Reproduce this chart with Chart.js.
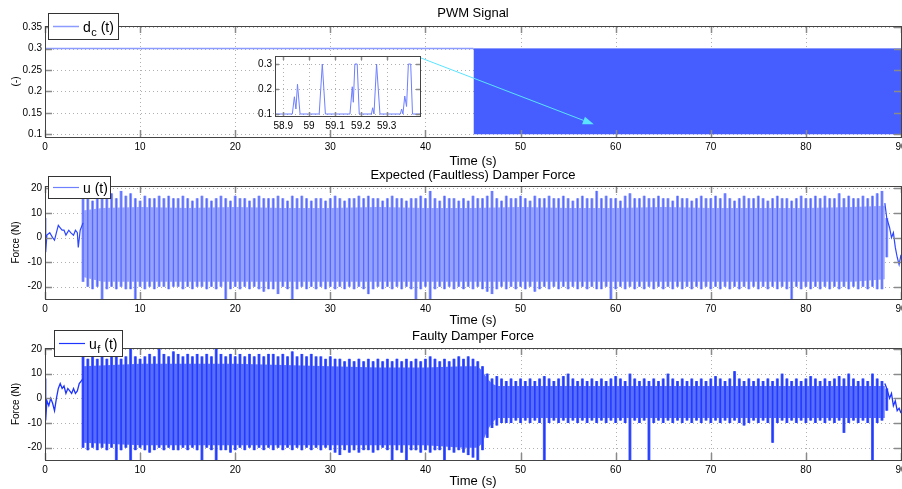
<!DOCTYPE html>
<html><head><meta charset="utf-8">
<script src="https://cdn.jsdelivr.net/npm/chart.js@4.4.1/dist/chart.umd.min.js"></script>
<style>
html,body{margin:0;padding:0;background:#fff;overflow:hidden;width:902px;height:489px;position:relative}
canvas{position:absolute;left:0;top:0}
</style></head><body>
<canvas id="c1" width="920" height="489"></canvas>
<canvas id="c2" width="920" height="489"></canvas>
<canvas id="c3" width="920" height="489"></canvas>
<canvas id="c4" width="920" height="489"></canvas>
<script>
// ---------- tick labels ----------
const timeTicks=[0,10,20,30,40,50,60,70,80,90];
const pwmYTicks=[0.1,0.15,0.2,0.25,0.3,0.35];
const forceYTicks=[-20,-10,0,10,20];
const zoomXTicks=[58.9,59,59.1,59.2,59.3];
const zoomYTicks=[0.1,0.2,0.3];

// ---------- PWM signal d_c(t) ----------
const pwmConstT=[0,45.05];
const pwmConstV=[0.3,0.3];
const pwmBandT=[45.05,90];
const pwmBandHi=[0.3,0.3];
const pwmBandLo=[0.1,0.1];
// zoomed window 58.87 .. 59.43 s
const pwmZoomT=[58.868,58.935,58.943,58.949,58.955,58.965,59.039,59.051,59.063,59.158,59.167,59.171,59.177,59.186,59.194,59.241,59.246,59.251,59.261,59.274,59.353,59.358,59.363,59.370,59.377,59.384,59.393,59.400,59.429];
const pwmZoomV=[0.1,0.1,0.169,0.12,0.219,0.1,0.1,0.3,0.1,0.1,0.209,0.147,0.3,0.3,0.1,0.1,0.125,0.1,0.3,0.1,0.1,0.12,0.1,0.172,0.13,0.3,0.3,0.1,0.1];
const arrowFrom=[39.4,0.279];
const arrowTo=[57.7,0.123];

// ---------- sample grid of oscillation peaks (s) ----------
const cycleT0=4.0, cycleDt=0.5;

// ---------- Expected (faultless) damper force u(t) ----------
const uStartT=[0,0.05,0.1,0.2,0.5,0.8,1.0,1.2,1.4,1.6,1.8,2.0,2.2,2.5,2.7,3.0,3.2,3.4,3.5,3.7,4.0];
const uStartV=[0,8,-6,1,2,0,-1,2,5,4,3,3,1,3,2,1,3,2,-4,3,6];
const uEndT=[88.3,88.5,88.8,89.0,89.2,89.4,89.6,89.8,90];
const uEndV=[14,8,4,0,2,-4,-8,-11,-7];
const uBandT=[4,6,10,15,20,25,30,35,40,45,50,55,60,65,70,75,80,85,88.3];
const uBandHi=[11,12,12.5,12,12.5,12,12,12.5,12,12,12.5,12,12,12.5,12,12,12,12.5,13];
const uBandLo=[-16,-18,-18,-18,-18,-18,-18,-18,-18,-18,-18,-18,-18,-18,-18,-18,-18,-18,-17];
const uPeakHi=[17,16,15,16,17,16,18,16,19,17, 18,16,15,17,16,16,17,16,17,16, 16,17,16,15,16,17,16,15,16,17,
 16,15,17,16,16,15,16,17,16,16, 16,17,16,15,17,16,17,16,15,16, 16,15,16,17,16,15,16,16,17,16,
 17,16,16,15,16,17,16,16,15,16, 16,17,16,19,16,15,17,16,16,15, 16,15,17,16,16,17,19,16,15,17,
 16,16,17,16,15,17,16,16,17,16, 16,17,16,15,16,17,16,16,19,16, 17,16,16,15,17,18,16,16,17,16,
 16,17,16,16,15,17,16,16,15,16, 17,16,16,17,16,18,16,15,16,17, 16,16,17,16,15,16,17,16,16,15,
 16,17,16,16,17,16,17,16,16,18, 16,17,16,16,17,16,17,18,19,8];
const uPeakLo=[-18,-20,-21,-20,-25,-21,-20,-21,-20,-21, -21,-25,-20,-21,-20,-21,-20,-20,-21,-20, -20,-21,-20,-21,-20,-20,-21,-20,-21,-20,
 -25,-21,-20,-21,-20,-21,-20,-21,-22,-21, -21,-23,-20,-21,-25,-21,-20,-21,-20,-21, -20,-21,-20,-21,-20,-21,-20,-21,-20,-21,
 -23,-21,-20,-21,-20,-21,-20,-21,-20,-21, -25,-21,-20,-25,-21,-20,-21,-20,-21,-20, -21,-20,-21,-20,-21,-22,-23,-21,-20,-21,
 -20,-21,-20,-21,-20,-22,-21,-20,-21,-20, -21,-20,-21,-20,-21,-20,-21,-20,-21,-21, -20,-25,-21,-20,-21,-20,-21,-20,-21,-20,
 -21,-20,-21,-20,-21,-20,-21,-20,-21,-20, -21,-20,-21,-20,-21,-20,-21,-20,-21,-20, -21,-20,-21,-20,-21,-20,-21,-20,-21,-25,
 -20,-21,-20,-21,-20,-21,-20,-21,-20,-21, -20,-21,-20,-21,-20,-21,-20,-21,-21,-8];

// ---------- Faulty damper force u_f(t) ----------
const fStartT=[0,0.05,0.1,0.2,0.4,0.6,0.8,1.0,1.2,1.4,1.6,1.8,2.0,2.2,2.4,2.6,2.8,3.0,3.2,3.4,3.6,3.8,4.0];
const fStartV=[0,8,-9,-1,-3,0,-2,-5,0,4,6,4,5,2,4,3,2,4,2,3,6,7,8];
const fEndT=[88.3,88.5,88.8,89.0,89.2,89.4,89.6,89.8,90];
const fEndV=[6,4,0,2,-3,-1,-5,-4,-6];
const fBandT=[4,10,20,30,35,40,44,45.5,46,46.5,47,47.5,55,65,75,85,88.3];
const fBandHi=[13,14,14,13,12.5,12.5,13,13,11,8,6,5,5,5,5,5,5];
const fBandLo=[-18,-19,-19,-19,-19,-19,-20,-20,-18,-13,-10,-8,-8,-8,-8,-8,-8];
const fPeakHi=[17,16,17,16,17,16,18,17,16,17, 20,17,16,17,18,17,20,18,17,19, 18,17,18,17,18,17,18,17,20,18,
 17,18,17,18,17,18,17,18,17,18, 18,17,18,17,19,17,18,17,18,17, 17,16,17,16,16,15,16,15,16,15,
 16,15,16,15,16,15,16,15,16,15, 16,15,16,17,16,15,16,15,16,17, 16,17,16,15,13,10,8,9,8,7,
 8,7,8,7,8,7,8,9,8,7, 8,9,10,8,7,8,7,8,7,8, 7,8,9,8,7,10,8,7,8,7,
 8,7,8,10,8,7,8,7,8,7, 8,7,8,9,8,7,8,11,8,7, 8,7,8,7,8,7,8,10,8,7,
 8,7,8,9,8,7,8,7,8,9, 8,10,8,7,8,7,10,8,7,4];
const fPeakLo=[-20,-21,-20,-21,-20,-21,-20,-25,-21,-20, -25,-21,-20,-21,-22,-21,-20,-21,-20,-21, -21,-20,-21,-20,-21,-25,-20,-21,-25,-21,
 -21,-22,-21,-20,-21,-20,-21,-20,-21,-20, -21,-20,-21,-20,-21,-20,-21,-20,-21,-20, -21,-20,-21,-22,-23,-21,-22,-21,-22,-21,
 -21,-22,-21,-20,-21,-25,-21,-22,-25,-21, -21,-22,-21,-22,-21,-21,-25,-21,-22,-21, -22,-23,-24,-25,-21,-16,-12,-11,-10,-10,
 -10,-9,-10,-9,-10,-9,-10,-25,-10,-9, -10,-9,-10,-9,-10,-9,-10,-9,-10,-9, -10,-9,-10,-9,-10,-25,-9,-10,-9,-25,
 -10,-9,-10,-9,-10,-9,-10,-9,-10,-9, -10,-9,-10,-9,-10,-9,-10,-9,-10,-11, -10,-9,-10,-9,-10,-18,-10,-9,-10,-9,
 -10,-9,-10,-9,-10,-9,-10,-9,-10,-9, -14,-10,-9,-10,-9,-10,-25,-10,-9,-5];

// ---------- helpers ----------
const FONT="'Liberation Sans', Arial, Helvetica, sans-serif";
const pts=(T,V)=>T.map((t,i)=>({x:t,y:V[i]}));
const bars=(H,L)=>H.map((h,i)=>({x:cycleT0+i*cycleDt,y:[L[i],h]}));
const clear='rgba(0,0,0,0)';

function drawLegend(ctx,L){
  ctx.save();
  ctx.fillStyle='#fff';ctx.fillRect(L.x,L.y,L.w,L.h);
  ctx.strokeStyle='#333';ctx.lineWidth=1;ctx.setLineDash([]);
  ctx.strokeRect(L.x+0.5,L.y+0.5,L.w,L.h);
  const cy=L.y+L.h/2+0.5;
  ctx.strokeStyle=L.color;ctx.lineWidth=L.lw;
  ctx.beginPath();ctx.moveTo(L.x+5,cy);ctx.lineTo(L.x+31,cy);ctx.stroke();
  ctx.fillStyle='#000';ctx.font='14px '+FONT;ctx.textBaseline='alphabetic';ctx.textAlign='left';
  let tx=L.x+35;const by=cy+5;
  ctx.fillText(L.main,tx,by);tx+=ctx.measureText(L.main).width;
  if(L.sub){ctx.font='11px '+FONT;ctx.fillText(L.sub,tx+0.5,by+4);tx+=ctx.measureText(L.sub).width+0.5;ctx.font='14px '+FONT;}
  ctx.fillText(L.rest,tx,by);
  ctx.restore();
}

const matlabPlugin={
  id:'matlab',
  beforeDatasetsDraw(chart,args,o){
    const {ctx,chartArea:a,scales:{x,y}}=chart;
    ctx.save();
    if(o.whiteBg){ctx.fillStyle='#fff';ctx.fillRect(a.left,a.top,a.right-a.left,a.bottom-a.top);}
    ctx.strokeStyle='#b0b0b0';ctx.lineWidth=1;ctx.setLineDash([1,3]);
    ctx.beginPath();
    x.ticks.forEach(t=>{const p=Math.round(x.getPixelForValue(t.value))+0.5;ctx.moveTo(p,a.top);ctx.lineTo(p,a.bottom);});
    y.ticks.forEach(t=>{const p=Math.round(y.getPixelForValue(t.value))+0.5;ctx.moveTo(a.left,p);ctx.lineTo(a.right,p);});
    ctx.stroke();ctx.restore();
  },
  afterDatasetsDraw(chart,args,o){
    const {ctx,chartArea:a,scales:{x,y}}=chart;
    ctx.save();ctx.setLineDash([]);
    ctx.strokeStyle='#8a8a8a';ctx.lineWidth=1.5;ctx.beginPath();
    const tl=o.tickLen||7;
    x.ticks.forEach(t=>{const p=Math.round(x.getPixelForValue(t.value))+0.5;ctx.moveTo(p,a.top);ctx.lineTo(p,a.top+tl);ctx.moveTo(p,a.bottom);ctx.lineTo(p,a.bottom-tl);});
    y.ticks.forEach(t=>{const p=Math.round(y.getPixelForValue(t.value))+0.5;ctx.moveTo(a.left,p);ctx.lineTo(a.left+tl,p);ctx.moveTo(a.right,p);ctx.lineTo(a.right-tl,p);});
    ctx.stroke();
    ctx.strokeStyle='#444';ctx.lineWidth=1;
    ctx.strokeRect(Math.round(a.left)+0.5,Math.round(a.top)+0.5,Math.round(a.right-a.left),Math.round(a.bottom-a.top));
    if(o.arrow){
      const A=o.arrow;
      const x1=x.getPixelForValue(A.from[0]),y1=y.getPixelForValue(A.from[1]);
      const x2=x.getPixelForValue(A.to[0]),y2=y.getPixelForValue(A.to[1]);
      const ang=Math.atan2(y2-y1,x2-x1),hl=11,hw=4;
      ctx.strokeStyle=A.color;ctx.fillStyle=A.color;ctx.lineWidth=1;
      ctx.beginPath();ctx.moveTo(x1,y1);ctx.lineTo(x2-hl*Math.cos(ang),y2-hl*Math.sin(ang));ctx.stroke();
      ctx.beginPath();ctx.moveTo(x2,y2);
      ctx.lineTo(x2-hl*Math.cos(ang)+hw*Math.sin(ang),y2-hl*Math.sin(ang)-hw*Math.cos(ang));
      ctx.lineTo(x2-hl*Math.cos(ang)-hw*Math.sin(ang),y2-hl*Math.sin(ang)+hw*Math.cos(ang));
      ctx.closePath();ctx.fill();
    }
    ctx.restore();
  },
  afterDraw(chart,args,o){
    const {ctx,chartArea:a}=chart;
    ctx.save();ctx.fillStyle='#000';
    const cx=o.centerX||(a.left+a.right)/2;
    if(o.title){ctx.font='13px '+FONT;ctx.textAlign='center';ctx.textBaseline='middle';ctx.fillText(o.title,cx,a.top+o.titleDy);}
    if(o.xTitle){ctx.font='13px '+FONT;ctx.textAlign='center';ctx.textBaseline='middle';ctx.fillText(o.xTitle,cx,a.bottom+o.xTitleDy);}
    if(o.yTitle){ctx.font='10px '+FONT;ctx.textAlign='center';ctx.textBaseline='middle';
      ctx.translate(o.yTitleX,(a.top+a.bottom)/2);ctx.rotate(-Math.PI/2);ctx.fillText(o.yTitle,0,0);ctx.setTransform(1,0,0,1,0,0);}
    ctx.restore();
    if(o.legend)drawLegend(ctx,o.legend);
  }
};

function makeOptions(c){
  return {
    responsive:false,animation:false,devicePixelRatio:1,
    layout:{padding:{top:c.top,left:c.left,right:c.right,bottom:0}},
    plugins:{legend:{display:false},tooltip:{enabled:false},title:{display:false},matlab:c.matlab},
    scales:{
      x:{type:'linear',min:c.xMin,max:c.xMax,offset:false,
        afterFit:s=>{s.height=c.xH;},
        afterBuildTicks:s=>{s.ticks=c.xTicks.map(v=>({value:v}));},
        grid:{display:false,drawTicks:false},border:{display:false},
        ticks:{autoSkip:false,maxRotation:0,minRotation:0,padding:c.xPad,color:'#000',font:{family:FONT,size:10},callback:v=>String(v)}},
      y:{type:'linear',min:c.yMin,max:c.yMax,
        afterFit:s=>{s.width=c.yW;},
        afterBuildTicks:s=>{s.ticks=c.yTicks.map(v=>({value:v}));},
        grid:{display:false,drawTicks:false},border:{display:false},
        ticks:{padding:3,color:'#000',font:{family:FONT,size:10},callback:v=>String(v)}}
    }
  };
}

// colors
const PWM_LINE='rgb(140,155,255)', PWM_BAND='rgb(70,94,255)';
const U_BAND='rgb(150,162,255)', U_BAR='rgb(85,105,255)', U_LINE='rgb(45,70,255)', U_LEG='rgb(110,128,255)';
const F_BAND='rgb(88,110,255)', F_BAR='rgb(35,58,255)', F_LINE='rgb(30,52,255)';

// ---------- chart 1: PWM ----------
new Chart(document.getElementById('c1'),{
  type:'line',
  data:{datasets:[
    {data:pts(pwmBandT,pwmBandHi),fill:'+1',backgroundColor:PWM_BAND,borderColor:PWM_LINE,borderWidth:1,pointRadius:0,order:3},
    {data:pts(pwmBandT,pwmBandLo),fill:false,borderColor:clear,borderWidth:1,pointRadius:0,order:3},
    {data:pts(pwmConstT,pwmConstV),fill:false,borderColor:PWM_LINE,borderWidth:1.5,pointRadius:0,order:1}
  ]},
  plugins:[matlabPlugin],
  options:makeOptions({top:26,left:0,right:19,xH:489-137,yW:45,xMin:0,xMax:90,yMin:0.0935,yMax:0.3525,
    xTicks:timeTicks,yTicks:pwmYTicks,xPad:4,
    matlab:{title:'PWM Signal',titleDy:-13,xTitle:'Time (s)',xTitleDy:24,yTitle:'(-)',yTitleX:16,centerX:473,
      arrow:{from:arrowFrom,to:arrowTo,color:'rgb(90,228,255)'},
      legend:{x:48,y:13,w:70,h:26,color:PWM_LINE,lw:1.5,main:'d',sub:'c',rest:' (t)'}}})
});

// ---------- chart 2: expected force ----------
new Chart(document.getElementById('c2'),{
  type:'line',
  data:{datasets:[
    {data:pts(uBandT,uBandHi),fill:'+1',backgroundColor:U_BAND,borderColor:clear,borderWidth:1,pointRadius:0,order:4},
    {data:pts(uBandT,uBandLo),fill:false,borderColor:clear,borderWidth:1,pointRadius:0,order:4},
    {type:'bar',data:bars(uPeakHi,uPeakLo),backgroundColor:U_BAND,barThickness:3,inflateAmount:0,grouped:false,order:3},
    {type:'bar',data:bars(uPeakHi,uPeakLo),backgroundColor:U_BAR,barThickness:1.3,inflateAmount:0,grouped:false,order:2},
    {data:pts(uStartT,uStartV),fill:false,borderColor:U_LINE,borderWidth:1.2,pointRadius:0,order:1},
    {data:pts(uEndT,uEndV),fill:false,borderColor:U_LINE,borderWidth:1.2,pointRadius:0,order:1}
  ]},
  plugins:[matlabPlugin],
  options:makeOptions({top:186,left:0,right:19,xH:489-299,yW:45,xMin:0,xMax:90,yMin:-25,yMax:21,
    xTicks:timeTicks,yTicks:forceYTicks,xPad:4,
    matlab:{title:'Expected (Faultless) Damper Force',titleDy:-11,xTitle:'Time (s)',xTitleDy:21,yTitle:'Force (N)',yTitleX:16,centerX:473,
      legend:{x:48,y:176,w:62,h:22,color:U_LEG,lw:1.2,main:'u',sub:'',rest:' (t)'}}})
});

// ---------- chart 3: faulty force ----------
new Chart(document.getElementById('c3'),{
  type:'line',
  data:{datasets:[
    {data:pts(fBandT,fBandHi),fill:'+1',backgroundColor:F_BAND,borderColor:clear,borderWidth:1,pointRadius:0,order:4},
    {data:pts(fBandT,fBandLo),fill:false,borderColor:clear,borderWidth:1,pointRadius:0,order:4},
    {type:'bar',data:bars(fPeakHi,fPeakLo),backgroundColor:F_BAND,barThickness:3,inflateAmount:0,grouped:false,order:3},
    {type:'bar',data:bars(fPeakHi,fPeakLo),backgroundColor:F_BAR,barThickness:1.6,inflateAmount:0,grouped:false,order:2},
    {data:pts(fStartT,fStartV),fill:false,borderColor:F_LINE,borderWidth:1.3,pointRadius:0,order:1},
    {data:pts(fEndT,fEndV),fill:false,borderColor:F_LINE,borderWidth:1.3,pointRadius:0,order:1}
  ]},
  plugins:[matlabPlugin],
  options:makeOptions({top:348,left:0,right:19,xH:489-460,yW:45,xMin:0,xMax:90,yMin:-25,yMax:20.4,
    xTicks:timeTicks,yTicks:forceYTicks,xPad:4,
    matlab:{title:'Faulty Damper Force',titleDy:-12,xTitle:'Time (s)',xTitleDy:21,yTitle:'Force (N)',yTitleX:16,centerX:473,
      legend:{x:54,y:330,w:68,h:26,color:F_LINE,lw:1.2,main:'u',sub:'f',rest:' (t)'}}})
});

// ---------- chart 4: inset zoom of PWM ----------
new Chart(document.getElementById('c4'),{
  type:'line',
  data:{datasets:[
    {data:pts(pwmZoomT,pwmZoomV),fill:false,borderColor:'rgb(110,128,255)',borderWidth:1,pointRadius:0,tension:0}
  ]},
  plugins:[matlabPlugin],
  options:makeOptions({top:56,left:245,right:920-420,xH:489-116,yW:30,xMin:58.868,xMax:59.429,yMin:0.092,yMax:0.332,
    xTicks:zoomXTicks,yTicks:zoomYTicks,xPad:4,
    matlab:{whiteBg:true,tickLen:4}})
});
</script>
</body></html>
